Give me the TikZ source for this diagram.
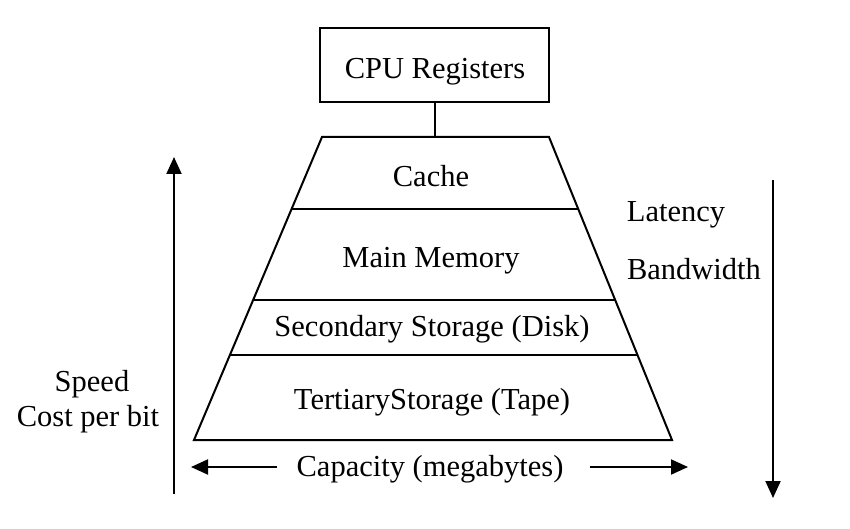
\documentclass[tikz,border=0pt]{standalone}
\usepackage{fontspec}
\setmainfont{Liberation Serif}
\usetikzlibrary{arrows.meta}
\begin{document}
\begin{tikzpicture}[x=1pt,y=-1pt,
  every node/.style={font=\fontsize{30.5}{34}\selectfont,inner sep=0pt,text height=23pt,text depth=2pt},
  ln/.style={line width=2pt},
  arr/.style={line width=2pt,-{Triangle[length=17pt,width=15pt]}}]
\useasboundingbox (0,0) rectangle (850,529);
\draw[ln] (320,28) rectangle (549,102);
\node (cpu) at (435,68) {CPU Registers};
\coordinate (cpub) at (435,102);
\coordinate (tl) at (322,137);
\coordinate (tr) at (549,137);
\coordinate (bl) at (194,440);
\coordinate (br) at (672,440);
\coordinate (ctop) at (435,137);
\draw[ln] (cpub) -- (ctop);
\draw[ln] (tl) -- (tr) -- (br) -- (bl) -- cycle;
\coordinate (l1) at (291.6,209); \coordinate (r1) at (578.2,209);
\coordinate (l2) at (253.2,300); \coordinate (r2) at (615.2,300);
\coordinate (l3) at (230.0,355); \coordinate (r3) at (637.5,355);
\draw[ln] (l1) -- (r1);
\draw[ln] (l2) -- (r2);
\draw[ln] (l3) -- (r3);
\node (cache) at (431,176) {Cache};
\node (main) at (431,257) {Main Memory};
\node (sec) at (432,326) {Secondary Storage (Disk)};
\node (ter) at (432,399) {TertiaryStorage (Tape)};
\node (cap) at (430,466) {Capacity (megabytes)};
\coordinate (capL) at (191,467);
\coordinate (capR) at (688,467);
\coordinate (capLs) at (277,467);
\coordinate (capRs) at (590,467);
\draw[arr] (capLs) -- (capL);
\draw[arr] (capRs) -- (capR);
\coordinate (upS) at (174,494);
\coordinate (upE) at (174,157);
\draw[arr] (upS) -- (upE);
\coordinate (dnS) at (773,180);
\coordinate (dnE) at (773,498);
\draw[arr] (dnS) -- (dnE);
\node (lat) at (676,211) {Latency};
\node (bw) at (694,269) {Bandwidth};
\node (speed) at (92,381) {Speed};
\node (cost) at (88,416) {Cost per bit};
\end{tikzpicture}
\end{document}
